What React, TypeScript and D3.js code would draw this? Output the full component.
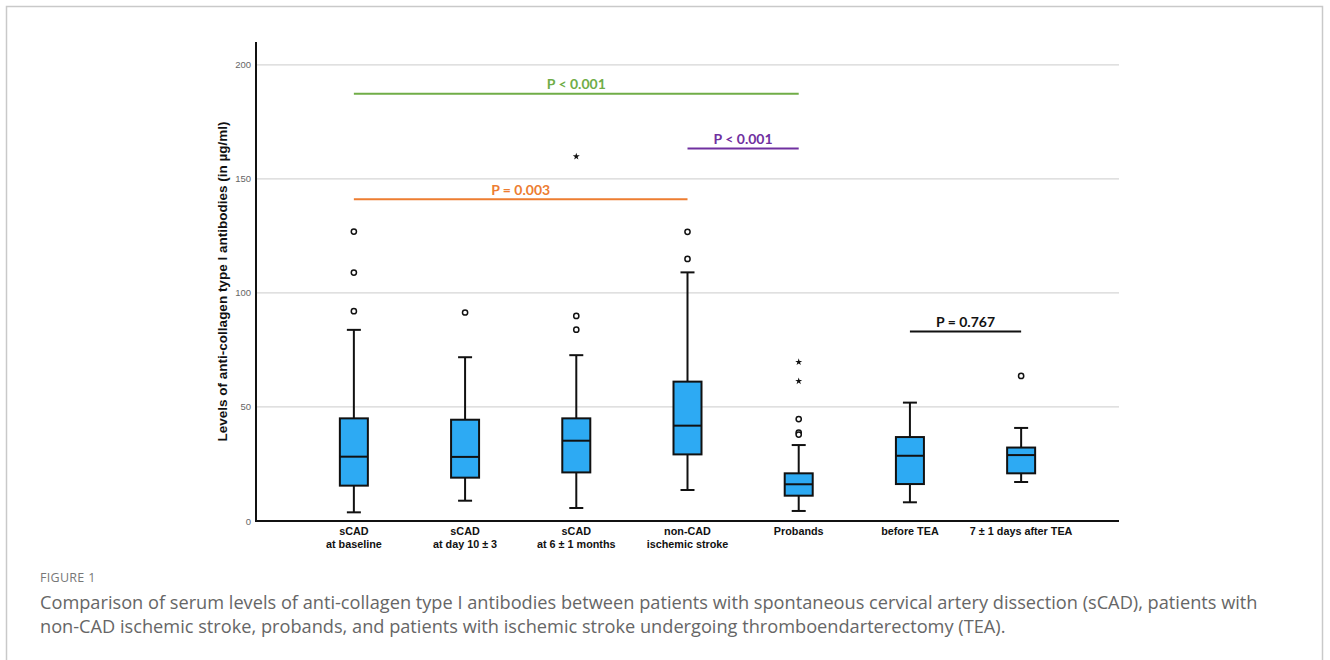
import * as d3 from 'd3';

// group labels, one array per line of the tick label
const categories = [
    ['sCAD', 'at baseline'],
    ['sCAD', 'at day 10 ± 3'],
    ['sCAD', 'at 6 ± 1 months'],
    ['non-CAD', 'ischemic stroke'],
    ['Probands'],
    ['before TEA'],
    ['7 ± 1 days after TEA'],
];

// box plot stats (µg/ml)
const whiskerLow = [3.8, 8.9, 5.7, 13.6, 4.4, 8.2, 17.1];
const q1 = [15.5, 19.0, 21.3, 29.2, 11.1, 16.2, 20.9];
const median = [28.2, 28.1, 35.2, 41.8, 16.1, 28.6, 28.9];
const q3 = [45.0, 44.4, 45.0, 61.1, 20.9, 36.8, 32.2];
const whiskerHigh = [83.8, 71.8, 72.7, 109.0, 33.3, 51.9, 40.8];

// outliers: [group index, value]
const outliers: [number, number][] = [
    [0, 126.9], [0, 108.9], [0, 92.0],
    [1, 91.4],
    [2, 89.9], [2, 83.9],
    [3, 126.8], [3, 114.9],
    [4, 44.7], [4, 38.8], [4, 37.9],
    [6, 63.6],
];
// extreme values (stars)
const extremes: [number, number][] = [[2, 159.8], [4, 69.7], [4, 61.3]];

// significance brackets
const pFrom = [0, 3, 0, 5];
const pTo = [4, 4, 3, 6];
const pLevel = [187.3, 163.3, 141.1, 83.1];
const pLabels = ['P < 0.001', 'P < 0.001', 'P = 0.003', 'P = 0.767'];
const pColors = ['#70ad47', '#7030a0', '#ed7d31', '#111111'];

const yTicks = [0, 50, 100, 150, 200];

const captionTitle = 'FIGURE 1';
const captionLines = [
    'Comparison of serum levels of anti-collagen type I antibodies between patients with spontaneous cervical artery dissection (sCAD), patients with',
    'non-CAD ischemic stroke, probands, and patients with ischemic stroke undergoing thromboendarterectomy (TEA).',
];

const W = 1330;
const H = 660;
const plot = { left: 256, right: 1119, top: 42, bottom: 521 };
const BOX_FILL = '#2daaf3';

export default function App() {
    const idx = categories.map((_, i) => i);
    const x = d3.scalePoint<number>().domain(idx).range([plot.left, plot.right]).padding(0.88);
    const y = d3.scaleLinear().domain([0, 210]).range([plot.bottom, plot.top]);
    const star = d3.symbol().type(d3.symbolStar).size(15)();
    const boxW = 28;
    const capW = 14;

    return (
        <div style={{ position: 'absolute', left: 0, top: 0 }}>
            <svg width={W} height={H} style={{ display: 'block', background: '#fff' }}>
                {/* card frame */}
                <path d={`M6.5,${H} V6.5 H1322.5 V${H}`} fill="none" stroke="#c9c9c9" strokeWidth={1.5} />

                {/* grid */}
                {yTicks.filter(t => t > 0).map(t => (
                    <line key={t} x1={plot.left} x2={plot.right} y1={y(t)} y2={y(t)} stroke="#d6d6d6" strokeWidth={1.3} />
                ))}
                {yTicks.map(t => (
                    <text key={'t' + t} x={plot.left - 5} y={y(t) + 3.5} textAnchor="end"
                        fontFamily="Liberation Sans, Arial, sans-serif" fontSize={9.5} fill="#666">{t}</text>
                ))}

                {/* axis title */}
                <text transform={`translate(226.5, ${(plot.top + plot.bottom) / 2}) rotate(-90)`} textAnchor="middle"
                    fontFamily="Liberation Sans, Arial, sans-serif" fontWeight="bold" fontSize={13.5} fill="#111">
                    Levels of anti-collagen type I antibodies (in µg/ml)
                </text>

                {/* boxes */}
                {idx.map(i => {
                    const cx = x(i) as number;
                    return (
                        <g key={i} stroke="#111" strokeWidth={2} fill="none">
                            <line x1={cx} x2={cx} y1={y(whiskerHigh[i])} y2={y(q3[i])} />
                            <line x1={cx} x2={cx} y1={y(q1[i])} y2={y(whiskerLow[i])} />
                            <line x1={cx - capW / 2} x2={cx + capW / 2} y1={y(whiskerHigh[i])} y2={y(whiskerHigh[i])} />
                            <line x1={cx - capW / 2} x2={cx + capW / 2} y1={y(whiskerLow[i])} y2={y(whiskerLow[i])} />
                            <rect x={cx - boxW / 2} width={boxW} y={y(q3[i])} height={y(q1[i]) - y(q3[i])} fill={BOX_FILL} />
                            <line x1={cx - boxW / 2} x2={cx + boxW / 2} y1={y(median[i])} y2={y(median[i])} />
                        </g>
                    );
                })}

                {outliers.map(([g, v], k) => (
                    <circle key={'o' + k} cx={x(g)} cy={y(v)} r={2.6} fill="#fff" stroke="#111" strokeWidth={1.5} />
                ))}
                {extremes.map(([g, v], k) => (
                    <path key={'e' + k} d={star as string} transform={`translate(${x(g)},${y(v)})`} fill="#111" />
                ))}

                {/* axes */}
                <line x1={plot.left} x2={plot.left} y1={plot.top} y2={plot.bottom + 1} stroke="#111" strokeWidth={2} />
                <line x1={plot.left} x2={plot.right} y1={plot.bottom} y2={plot.bottom} stroke="#111" strokeWidth={2} />

                {categories.map((lines, i) => (
                    <text key={'c' + i} x={x(i)} y={plot.bottom + 14} textAnchor="middle"
                        fontFamily="Liberation Sans, Arial, sans-serif" fontWeight="bold" fontSize={10.8} fill="#111">
                        {lines.map((l, j) => (
                            <tspan key={j} x={x(i)} dy={j === 0 ? 0 : 12.5}>{l}</tspan>
                        ))}
                    </text>
                ))}

                {/* significance lines */}
                {pLabels.map((label, k) => {
                    const x1 = x(pFrom[k]) as number;
                    const x2 = x(pTo[k]) as number;
                    return (
                        <g key={'p' + k}>
                            <line x1={x1} x2={x2} y1={y(pLevel[k])} y2={y(pLevel[k])} stroke={pColors[k]} strokeWidth={2} />
                            <text x={(x1 + x2) / 2} y={y(pLevel[k]) - 4.5} textAnchor="middle"
                                fontFamily="Lato, 'Open Sans', sans-serif" fontWeight="bold" fontSize={14} fill={pColors[k]}>
                                {label}
                            </text>
                        </g>
                    );
                })}

                {/* caption */}
                <text x={40} y={582} fontFamily="'Open Sans', sans-serif" fontSize={12.5} fill="#777" letterSpacing={0.3}>
                    {captionTitle}
                </text>
                {captionLines.map((l, i) => (
                    <text key={'cap' + i} x={40} y={609 + i * 24} fontFamily="'Open Sans', sans-serif" fontSize={18.2} fill="#666">
                        {l}
                    </text>
                ))}
            </svg>
        </div>
    );
}
